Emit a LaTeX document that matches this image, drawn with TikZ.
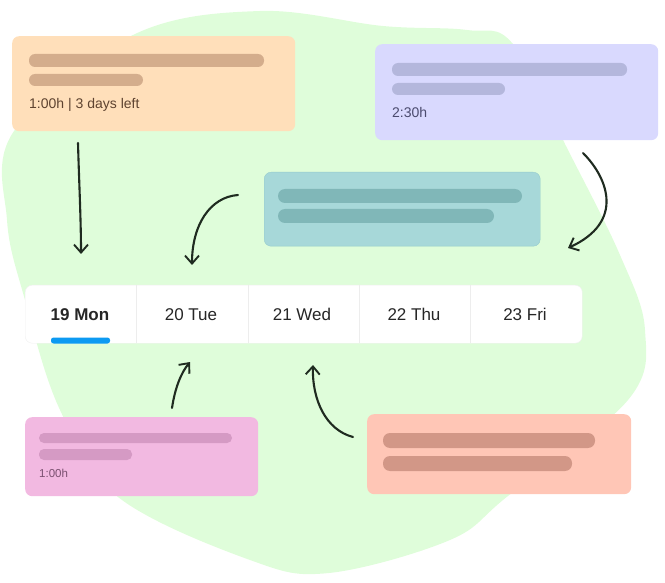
\documentclass[tikz,border=0pt]{standalone}
\usepackage{fontspec}
\setmainfont{Liberation Sans}
\usetikzlibrary{arrows.meta, positioning, calc}
\definecolor{blobgreen}{HTML}{DFFDDA}
\definecolor{peach}{HTML}{FFDFBA}
\definecolor{peachbar}{HTML}{D4AD8C}
\definecolor{peachtext}{HTML}{5E4330}
\definecolor{lilac}{HTML}{D9D9FE}
\definecolor{lilacbar}{HTML}{B4B7DC}
\definecolor{lilactext}{HTML}{4B4B6E}
\definecolor{teal}{HTML}{A7D8D9}
\definecolor{tealedge}{HTML}{95CBCD}
\definecolor{tealbar}{HTML}{80B7B8}
\definecolor{pink}{HTML}{F2B9E1}
\definecolor{pinkbar}{HTML}{D59AC4}
\definecolor{pinktext}{HTML}{7A5070}
\definecolor{salmon}{HTML}{FFC6B6}
\definecolor{salmonbar}{HTML}{D29787}
\definecolor{tabblue}{HTML}{0C9AF2}
\definecolor{daytext}{HTML}{262626}
\definecolor{ink}{HTML}{1F2B20}

\begin{document}
\begin{tikzpicture}[x=1pt, y=-1pt, >=Stealth,
  card/.style={rounded corners=7pt, anchor=north west, inner sep=0pt},
  sketch/.style={line width=2.1pt, draw=ink, line cap=round,
    -{Straight Barb[length=8pt, width=14pt, line width=1.9pt]}},
  day/.style={anchor=base, text=daytext, font=\fontsize{17}{20}\selectfont}]
  \useasboundingbox (0,0) rectangle (665,583);
  % green blob behind everything
  \fill[blobgreen] plot[smooth cycle, tension=0.6] coordinates
    {(260,11) (383,26) (467,30) (513,44) (567,148) (620,255) (645,330)
     (628,400) (508,496) (450,540) (329,573) (250,560) (118,497) (60,410)
     (25,300) (7,220) (14,131) (133,35)};

  % task cards
  \node[card, fill=peach, minimum width=283pt, minimum height=95pt] (peachcard) at (12,36) {};
  \fill[peachbar, rounded corners=6pt] (29,54) rectangle (264,67);
  \fill[peachbar, rounded corners=6pt] (29,74) rectangle (143,86);
  \node[anchor=base west, inner sep=0pt, text=peachtext, font=\fontsize{14}{16}\selectfont]
    (peachtime) at (29,109) {1:00h | 3 days left};

  \node[card, fill=lilac, minimum width=283pt, minimum height=96pt] (lilaccard) at (375,44) {};
  \fill[lilacbar, rounded corners=6pt] (392,63) rectangle (627,76);
  \fill[lilacbar, rounded corners=6pt] (392,83) rectangle (505,95);
  \node[anchor=base west, inner sep=0pt, text=lilactext, font=\fontsize{14}{16}\selectfont]
    (lilactime) at (392,118) {2:30h};

  \node[card, fill=teal, draw=tealedge, minimum width=276pt, minimum height=74pt] (tealcard) at (264,172) {};
  \fill[tealbar, rounded corners=7pt] (278,189) rectangle (522,203);
  \fill[tealbar, rounded corners=7pt] (278,209) rectangle (494,223);

  \node[card, fill=pink, minimum width=233pt, minimum height=79pt] (pinkcard) at (25,417) {};
  \fill[pinkbar, rounded corners=5pt] (39,433) rectangle (232,443);
  \fill[pinkbar, rounded corners=5pt] (39,449) rectangle (132,460);
  \node[anchor=base west, inner sep=0pt, text=pinktext, font=\fontsize{11.5}{13}\selectfont]
    (pinktime) at (39,477) {1:00h};

  \node[card, fill=salmon, minimum width=264pt, minimum height=80pt] (salmoncard) at (367,414) {};
  \fill[salmonbar, rounded corners=7pt] (383,433) rectangle (595,448);
  \fill[salmonbar, rounded corners=7pt] (383,456) rectangle (572,471);

  % week strip
  \node[card, fill=white, draw=black!6, minimum width=557pt, minimum height=58pt] (cal) at (25,285) {};
  \foreach \i in {1,...,4}
    \draw[black!7] ($(cal.north west)+(111.4*\i,0)$) -- ($(cal.south west)+(111.4*\i,0)$);
  \fill[tabblue, rounded corners=2.5pt] (51,343.5) -- (51,337.5) -- (110,337.5) -- (110,343.5) -- cycle;
  \node[day, font=\fontsize{17}{20}\selectfont\bfseries] (mon) at (80,320) {19 Mon};
  \node[day] (tue) at (191,320) {20 Tue};
  \node[day] (wed) at (302,320) {21 Wed};
  \node[day] (thu) at (414,320) {22 Thu};
  \node[day] (fri) at (525,320) {23 Fri};

  % hand drawn arrows
  \coordinate (from peach) at (78,143);
  \coordinate (to mon) at (81,254);
  \coordinate (from teal) at (238,195);
  \coordinate (to tue) at (192,265);
  \coordinate (from lilac) at (583,153);
  \coordinate (to fri) at (568,248);
  \coordinate (from pink) at (172,408);
  \coordinate (up tue) at (190,362);
  \coordinate (from salmon) at (353,437);
  \coordinate (up wed) at (313,365);
  \draw[sketch] (from peach) .. controls (79,180) and (81,220) .. (to mon);
  \draw[sketch] (from teal) .. controls (210,197) and (192,225) .. (to tue);
  \draw[sketch] (from lilac) .. controls (608,178) and (625,222) .. (to fri);
  \draw[sketch] (from pink) .. controls (175,388) and (181,373) .. (up tue);
  \draw[sketch] (from salmon) .. controls (326,430) and (312,400) .. (up wed);
\end{tikzpicture}
\end{document}
